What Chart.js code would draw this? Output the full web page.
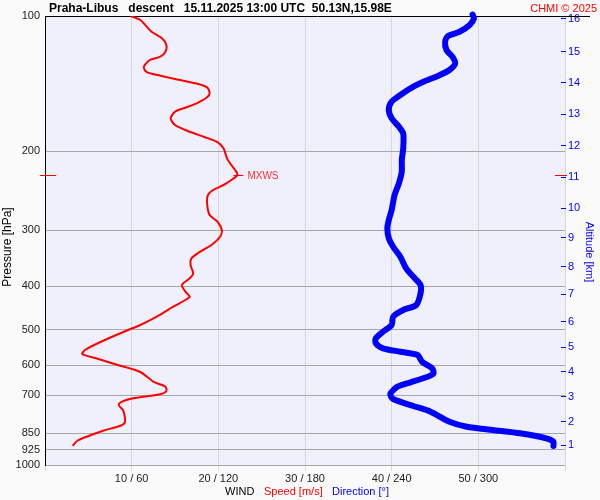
<!DOCTYPE html>
<html>
<head>
<meta charset="utf-8">
<script src="https://cdn.jsdelivr.net/npm/chart.js@4.4.0/dist/chart.umd.min.js"></script>
<style>
html, body { margin: 0; padding: 0; background: #fafafa; }
#wrap { width: 600px; height: 500px; }
</style>
</head>
<body>
<div id="wrap"><canvas id="c" width="600" height="500"></canvas></div>
<script>
// ---- data ----
const pressureTicks = [100, 200, 300, 400, 500, 600, 700, 850, 925, 1000];
const speedTicks = [10, 20, 30, 40, 50];
const directionTicks = [60, 120, 180, 240, 300];
const altitudeKm = [16, 15, 14, 13, 12, 11, 10, 9, 8, 7, 6, 5, 4, 3, 2, 1];
const altitudePressure = [101.5, 120.1, 140.8, 165.3, 194.5, 228.4, 267.7, 311.7, 361.6, 416.1, 479.6, 546.9, 619.7, 704.6, 800.9, 902.7];

const speedPressure = [100, 102.1, 108.4, 112.1, 116.0, 120.1, 123.2, 125.3, 129.7, 133.1, 135.8, 138.9, 141.7, 144.2, 148.2, 151.7, 156.5, 160.5, 163.4, 169.0, 174.9, 180.1, 185.7, 190.5, 197.1, 207.5, 214.7, 221.1, 226.0, 231.9, 237.9, 244.1, 250.4, 261.3, 277.5, 287.2, 299.7, 310.2, 323.6, 334.9, 346.5, 358.6, 374.2, 383.9, 397.3, 411.2, 422.5, 444.1, 467.5, 487.8, 500.5, 526.8, 554.5, 566.0, 577.7, 598.8, 620.7, 652.4, 669.3, 684.2, 695.9, 704.5, 712.9, 722.8, 735.1, 754.2, 780.6, 805.0, 817.5, 838.7, 864.9, 884.2, 905.8];
const windSpeed = [9.9, 11.0, 12.3, 13.5, 14.0, 13.9, 13.3, 12.1, 11.4, 11.7, 13.3, 15.6, 17.7, 18.7, 19.0, 18.7, 17.5, 16.0, 15.0, 14.5, 15.0, 16.4, 18.3, 19.8, 20.6, 21.0, 21.5, 22.0, 22.2, 21.5, 20.6, 19.4, 18.8, 18.7, 19.0, 19.9, 20.4, 20.2, 19.2, 17.9, 16.9, 16.8, 17.1, 16.7, 15.8, 16.2, 16.7, 14.8, 12.9, 11.0, 9.6, 6.9, 4.6, 4.3, 5.8, 8.4, 11.0, 12.5, 13.9, 14.0, 13.3, 11.3, 9.8, 8.9, 8.5, 9.0, 9.2, 9.2, 8.7, 6.7, 4.8, 3.7, 3.2];

const directionPressure = [99.3, 101.2, 104.7, 108.4, 110.8, 114.1, 119.1, 123.2, 127.5, 131.9, 136.0, 140.1, 143.7, 150.0, 155.2, 161.9, 169.0, 176.4, 182.5, 197.1, 209.3, 222.2, 235.9, 250.4, 270.5, 284.7, 297.1, 312.6, 326.5, 343.6, 364.7, 383.9, 397.3, 414.6, 440.2, 451.7, 467.5, 487.8, 504.9, 522.2, 535.8, 549.7, 559.3, 568.9, 588.8, 609.1, 624.8, 637.8, 654.4, 669.3, 694.8, 712.9, 738.9, 760.8, 800.9, 821.7, 835.7, 850.0, 872.1, 887.4, 907.1];
const windDirection = [296, 297, 294, 287, 279, 277, 278, 282, 284, 280, 272, 262, 255, 246, 240, 238, 240, 245, 248, 248, 247, 247, 245, 242, 240, 238, 237, 238, 241, 246, 250, 256, 260, 260, 257, 248, 241, 240, 234, 229, 229, 234, 246, 258, 261, 268, 269, 264, 253, 244, 239, 241, 255, 267, 280, 292, 310, 329, 347, 352, 352];

const mxwsPressure = 226.0;
const mxwsSpeed = 22.2;

const titleText = 'Praha-Libus   descent   15.11.2025 13:00 UTC  50.13N,15.98E';
const creditText = 'CHMI \u00A9 2025';

// ---- chart ----
const FONT = "'Liberation Sans', Arial, sans-serif";

const decor = {
  id: 'decor',
  beforeDraw(chart) {
    const { ctx, chartArea: a } = chart;
    ctx.save();
    ctx.fillStyle = '#fafafa';
    ctx.fillRect(0, 0, chart.width, chart.height);
    ctx.fillStyle = '#f0f0fc';
    ctx.fillRect(a.left, a.top, a.right - a.left, a.bottom - a.top);
    ctx.restore();
  },
  afterLayout(chart) {
    const s = chart.scales.y2;
    s.left -= 4; s.right -= 4;
  },
  beforeDatasetsDraw(chart) {
    const { ctx, chartArea: a } = chart;
    ctx.save();
    ctx.strokeStyle = '#000';
    ctx.lineWidth = 1;
    ctx.beginPath();
    ctx.moveTo(a.left, Math.round(a.top) + 0.5);
    ctx.lineTo(590, Math.round(a.top) + 0.5);
    ctx.stroke();
    ctx.restore();
  },
  afterDraw(chart) {
    const { ctx, chartArea: a, scales } = chart;
    ctx.save();
    // header
    ctx.textBaseline = 'alphabetic';
    ctx.font = 'bold 12px ' + FONT;
    ctx.fillStyle = '#000';
    ctx.textAlign = 'left';
    ctx.fillText(titleText, 49, 12);
    ctx.font = '11px ' + FONT;
    ctx.fillStyle = '#ff0000';
    ctx.textAlign = 'right';
    ctx.fillText(creditText, 597, 12);
    // bottom title
    ctx.textAlign = 'left';
    ctx.font = '11px ' + FONT;
    ctx.fillStyle = '#000';
    ctx.fillText('WIND', 225, 495);
    ctx.fillStyle = '#ff0000';
    ctx.fillText('Speed [m/s]', 264, 495);
    ctx.fillStyle = '#0000ff';
    ctx.fillText('Direction [\u00B0]', 332, 495);
    // axis titles
    ctx.textAlign = 'center';
    ctx.textBaseline = 'middle';
    ctx.save();
    ctx.translate(8, 247);
    ctx.rotate(-Math.PI / 2);
    ctx.fillStyle = '#000';
    ctx.font = '12px ' + FONT;
    ctx.fillText('Pressure [hPa]', 0, 0);
    ctx.restore();
    ctx.save();
    ctx.translate(589, 252);
    ctx.rotate(Math.PI / 2);
    ctx.fillStyle = '#0000ff';
    ctx.font = '11px ' + FONT;
    ctx.fillText('Altitude [km]', 0, 0);
    ctx.restore();
    // MXWS markers
    const yM = Math.round(scales.y.getPixelForValue(mxwsPressure)) + 0.5;
    const xM = scales.x.getPixelForValue(mxwsSpeed);
    ctx.strokeStyle = '#ff0000';
    ctx.lineWidth = 1;
    ctx.beginPath();
    ctx.moveTo(40, yM); ctx.lineTo(56, yM);
    ctx.moveTo(555, yM); ctx.lineTo(567, yM);
    ctx.moveTo(xM - 4, yM); ctx.lineTo(xM + 6, yM);
    ctx.stroke();
    ctx.font = '10px ' + FONT;
    ctx.fillStyle = '#ff3030';
    ctx.textAlign = 'left';
    ctx.textBaseline = 'middle';
    ctx.fillText('MXWS', xM + 10, yM + 1);
    ctx.restore();
  }
};

new Chart(document.getElementById('c'), {
  type: 'scatter',
  data: {
    datasets: [
      {
        label: 'Speed',
        data: speedPressure.map((p, i) => ({ x: windSpeed[i], y: p })),
        xAxisID: 'x', yAxisID: 'y',
        showLine: true,
        borderColor: '#ff0000',
        borderWidth: 2,
        pointRadius: 0,
        tension: 0.25
      },
      {
        label: 'Direction',
        data: directionPressure.map((p, i) => ({ x: windDirection[i], y: p })),
        xAxisID: 'xd', yAxisID: 'y',
        showLine: true,
        borderColor: '#0000ff',
        borderWidth: 6,
        borderCapStyle: 'round',
        borderJoinStyle: 'round',
        pointRadius: 0,
        tension: 0.25,
        clip: false
      }
    ]
  },
  options: {
    responsive: false,
    animation: false,
    devicePixelRatio: 1,
    layout: { padding: { top: 16, left: 0, right: 0, bottom: 0 } },
    plugins: { legend: { display: false }, tooltip: { enabled: false }, title: { display: false } },
    scales: {
      x: {
        type: 'linear', position: 'bottom', min: 0, max: 60,
        afterBuildTicks: s => { s.ticks = [0, ...speedTicks, 60].map(v => ({ value: v })); },
        afterFit: s => { s.height = 35; },
        grid: { color: '#d8d8d8', tickColor: '#d8d8d8', tickLength: 6, lineWidth: 1 },
        border: { display: false },
        ticks: {
          autoSkip: false, maxRotation: 0, padding: 1, color: '#222',
          font: { family: FONT, size: 11 },
          callback: v => { const i = speedTicks.indexOf(v); return i >= 0 ? speedTicks[i] + ' / ' + directionTicks[i] : ''; }
        }
      },
      xd: { type: 'linear', min: 0, max: 360, display: false },
      y: {
        type: 'logarithmic', position: 'left', reverse: true, min: 100, max: 1000,
        afterBuildTicks: s => { s.ticks = pressureTicks.map(v => ({ value: v })); },
        afterFit: s => { s.width = 45; },
        grid: {
          color: ctx => (ctx.tick && ctx.tick.value === 100) ? 'rgba(0,0,0,0)' : '#a8a8a8',
          drawTicks: false, lineWidth: 1
        },
        border: { display: true, color: '#000', width: 1 },
        ticks: {
          autoSkip: false, padding: 5, color: '#222',
          font: { family: FONT, size: 11 },
          callback: v => String(v)
        }
      },
      y2: {
        type: 'logarithmic', position: 'right', reverse: true, min: 100, max: 1000,
        afterBuildTicks: s => { s.ticks = altitudePressure.map(v => ({ value: v })); },
        afterFit: s => { s.width = 35; },
        grid: { drawOnChartArea: false, drawTicks: true, tickLength: 5, tickColor: '#0000ff', tickWidth: 1 },
        border: { display: false },
        ticks: {
          autoSkip: false, padding: 2, color: '#0000ff',
          font: { family: FONT, size: 11 },
          callback: (v, i) => String(altitudeKm[i])
        }
      }
    }
  },
  plugins: [decor]
});
</script>
</body>
</html>
